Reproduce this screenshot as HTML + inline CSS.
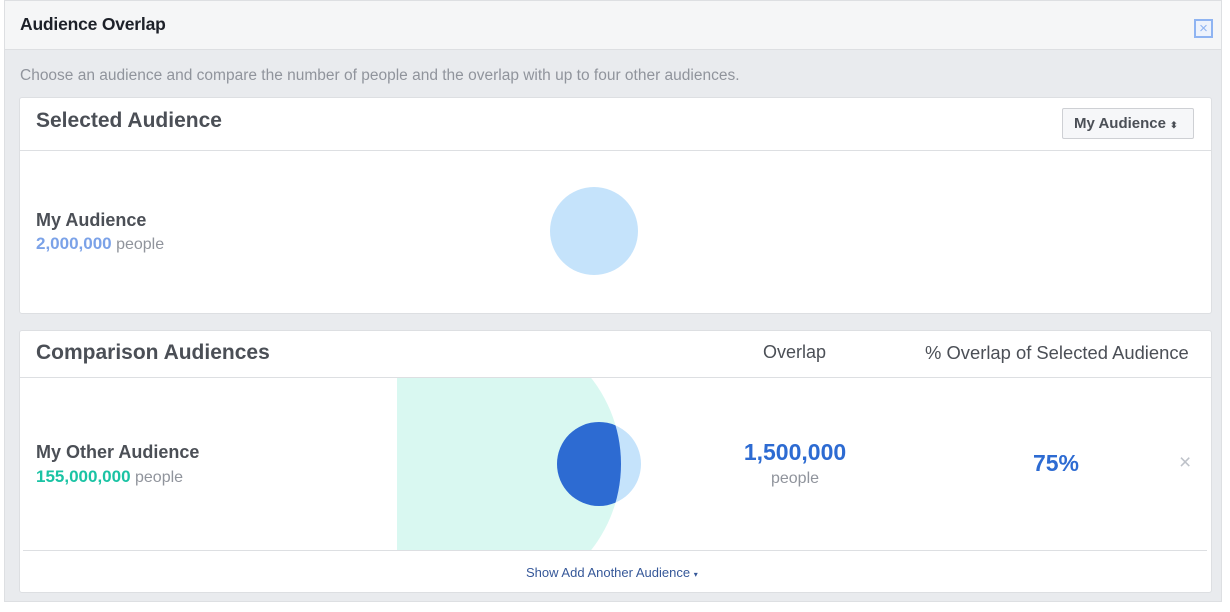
<!DOCTYPE html>
<html><head><style>
*{margin:0;padding:0;box-sizing:border-box}
body{width:1230px;height:612px;background:#fff;font-family:"Liberation Sans",sans-serif;position:relative;overflow:hidden}
.a{position:absolute;white-space:nowrap}
</style></head><body>
<div class="a" style="left:4px;top:0;width:1218px;height:602px;background:#e9ebee;border:1px solid #dddfe2"></div>
<div class="a" style="left:5px;top:1px;width:1216px;height:49px;background:#f5f6f7;border-bottom:1px solid #dddfe2"></div>
<div class="a" style="left:20px;top:14px;font-size:17.5px;font-weight:bold;color:#1d2129;letter-spacing:-0.2px">Audience Overlap</div>
<div class="a" style="left:1194px;top:19px;width:19px;height:19px;border:2px solid #8fb4f2;background:#eef3fc;color:#8fb4f2;font-size:15px;line-height:15px;text-align:center">×</div>
<div class="a" style="left:20px;top:67px;font-size:15.5px;color:#90949c">Choose an audience and compare the number of people and the overlap with up to four other audiences.</div>

<div class="a" style="left:19px;top:97px;width:1193px;height:217px;background:#fff;border:1px solid #dddfe2;border-radius:3px"></div>
<div class="a" style="left:19px;top:150px;width:1193px;height:1px;background:#dddfe2"></div>
<div class="a" style="left:36px;top:109px;font-size:21px;font-weight:bold;color:#4b4f56">Selected Audience</div>
<div class="a" style="left:1062px;top:108px;width:132px;height:31px;background:#f6f7f9;border:1px solid #ced0d4;border-radius:2px;font-size:15px;font-weight:bold;color:#4b4f56;line-height:29px;padding-left:11px">My Audience <span style="font-size:9px">⬍</span></div>
<div class="a" style="left:36px;top:210px;font-size:18px;font-weight:bold;color:#4b4f56">My Audience</div>
<div class="a" style="left:36px;top:234px;font-size:16px;color:#90949c"><b style="color:#7ba2e8;font-size:17px">2,000,000</b> people</div>
<div class="a" style="left:550px;top:187px;width:88px;height:88px;border-radius:50%;background:#c5e3fb"></div>

<div class="a" style="left:19px;top:330px;width:1193px;height:263px;background:#fff;border:1px solid #dddfe2;border-radius:3px"></div>
<div class="a" style="left:19px;top:377px;width:1193px;height:1px;background:#dddfe2"></div>
<div class="a" style="left:23px;top:550px;width:1184px;height:1px;background:#dddfe2"></div>
<div class="a" style="left:36px;top:341px;font-size:21px;font-weight:bold;color:#4b4f56">Comparison Audiences</div>
<div class="a" style="left:763px;top:342px;font-size:18px;color:#4b4f56">Overlap</div>
<div class="a" style="left:925px;top:342px;font-size:18.4px;color:#4b4f56">% Overlap of Selected Audience</div>
<svg class="a" style="left:0;top:0" width="1230" height="612">
<defs>
<clipPath id="c"><rect x="397" y="378" width="400" height="172"/></clipPath>
<clipPath id="g"><circle cx="482" cy="464" r="139"/></clipPath>
</defs>
<g clip-path="url(#c)"><circle cx="482" cy="464" r="139" fill="#d9f8f1"/></g>
<circle cx="599" cy="464" r="42" fill="#c5e3fb"/>
<g clip-path="url(#g)"><circle cx="599" cy="464" r="42" fill="#2d6bd2"/></g>
</svg>
<div class="a" style="left:36px;top:442px;font-size:18px;font-weight:bold;color:#4b4f56">My Other Audience</div>
<div class="a" style="left:36px;top:467px;font-size:16px;color:#90949c"><b style="color:#1ac3a4;font-size:17px">155,000,000</b> people</div>
<div class="a" style="left:695px;top:439px;width:200px;text-align:center;font-size:23px;font-weight:bold;color:#2d6bd2">1,500,000</div>
<div class="a" style="left:695px;top:470px;width:200px;text-align:center;font-size:16px;color:#90949c">people</div>
<div class="a" style="left:1000px;top:450px;width:112px;text-align:center;font-size:23px;font-weight:bold;color:#2d6bd2">75%</div>
<div class="a" style="left:1179px;top:451px;font-size:21px;color:#bec2c9">×</div>
<div class="a" style="left:526px;top:565px;font-size:13px;color:#365899">Show Add Another Audience <span style="font-size:8px">▾</span></div>
</body></html>
